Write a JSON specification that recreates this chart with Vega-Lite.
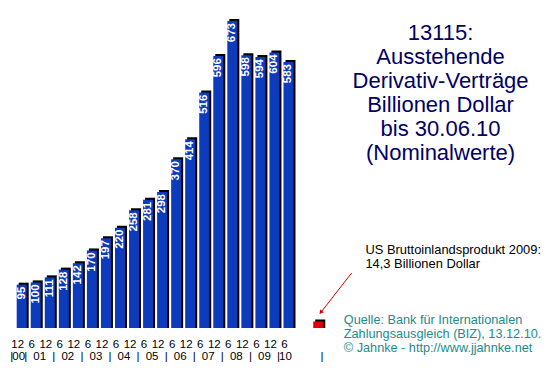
{
  "$schema": "https://vega.github.io/schema/vega-lite/v6.json",
  "width": 553,
  "height": 376,
  "padding": 0,
  "autosize": {"type": "none"},
  "background": "white",
  "config": {"view": {"stroke": null}, "font": "Liberation Sans"},
  "datasets": {
    "bars": [
      {"d": "12/00", "i": 0, "v": 95, "m": "12"},
      {"d": "6/01", "i": 1, "v": 100, "m": "6"},
      {"d": "12/01", "i": 2, "v": 111, "m": "12"},
      {"d": "6/02", "i": 3, "v": 128, "m": "6"},
      {"d": "12/02", "i": 4, "v": 142, "m": "12"},
      {"d": "6/03", "i": 5, "v": 170, "m": "6"},
      {"d": "12/03", "i": 6, "v": 197, "m": "12"},
      {"d": "6/04", "i": 7, "v": 220, "m": "6"},
      {"d": "12/04", "i": 8, "v": 258, "m": "12"},
      {"d": "6/05", "i": 9, "v": 281, "m": "6"},
      {"d": "12/05", "i": 10, "v": 298, "m": "12"},
      {"d": "6/06", "i": 11, "v": 370, "m": "6"},
      {"d": "12/06", "i": 12, "v": 414, "m": "12"},
      {"d": "6/07", "i": 13, "v": 516, "m": "6"},
      {"d": "12/07", "i": 14, "v": 596, "m": "12"},
      {"d": "6/08", "i": 15, "v": 673, "m": "6"},
      {"d": "12/08", "i": 16, "v": 598, "m": "12"},
      {"d": "6/09", "i": 17, "v": 594, "m": "6"},
      {"d": "12/09", "i": 18, "v": 604, "m": "12"},
      {"d": "6/10", "i": 19, "v": 583, "m": "6"}
    ],
    "gdp": [{"d": "US BIP 2009", "i": 21.12, "v": 14.3}],
    "years": [
      {"i": 0, "label": "00"}, {"i": 1.5, "label": "01"}, {"i": 3.5, "label": "02"},
      {"i": 5.5, "label": "03"}, {"i": 7.5, "label": "04"}, {"i": 9.5, "label": "05"},
      {"i": 11.5, "label": "06"}, {"i": 13.5, "label": "07"}, {"i": 15.5, "label": "08"},
      {"i": 17.5, "label": "09"}, {"i": 19, "label": "10"},
      {"i": -0.5, "label": "|"}, {"i": 0.5, "label": "|"}, {"i": 2.5, "label": "|"},
      {"i": 4.5, "label": "|"}, {"i": 6.5, "label": "|"}, {"i": 8.5, "label": "|"},
      {"i": 10.5, "label": "|"}, {"i": 12.5, "label": "|"}, {"i": 14.5, "label": "|"},
      {"i": 16.5, "label": "|"}, {"i": 18.5, "label": "|"}, {"i": 21.6, "label": "|"}
    ],
    "arrow": [{"i": 23.5, "v": 120.6, "i2": 21.3, "v2": 34}],
    "notes": [
      {"i": 29.83, "v": 646.6, "label": ["13115:", "Ausstehende", "Derivativ-Verträge", "Billionen Dollar", "bis 30.06.10", "(Nominalwerte)"]}
    ],
    "gdpnote": [
      {"i": 24.48, "v": 171, "label": ["US Bruttoinlandsprodukt 2009:", "14,3 Billionen Dollar"]}
    ],
    "source": [
      {"i": 22.94, "v": 17.5, "label": ["Quelle: Bank für Internationalen", "Zahlungsausgleich (BIZ), 13.12.10.", "© Jahnke - http://www.jjahnke.net"]}
    ]
  },
  "layer": [
    {
      "data": {"name": "bars"},
      "mark": {"type": "bar", "size": 10, "color": "black", "xOffset": 2, "yOffset": -2},
      "encoding": {
        "x": {"field": "i", "type": "quantitative", "scale": {"domain": [-1.189, 37.482], "nice": false, "zero": false}, "axis": null},
        "y": {"field": "v", "type": "quantitative", "scale": {"domain": [-105.2, 719], "nice": false, "zero": false}, "axis": null},
        "y2": {"datum": 0}
      }
    },
    {
      "data": {"name": "bars"},
      "mark": {"type": "bar", "size": 10, "color": "#0c3cbc"},
      "encoding": {
        "x": {"field": "i", "type": "quantitative"},
        "y": {"field": "v", "type": "quantitative"},
        "y2": {"datum": 0}
      }
    },
    {
      "data": {"name": "gdp"},
      "mark": {"type": "bar", "size": 10, "color": "black", "xOffset": 2, "yOffset": -2},
      "encoding": {
        "x": {"field": "i", "type": "quantitative"},
        "y": {"field": "v", "type": "quantitative"},
        "y2": {"datum": 0}
      }
    },
    {
      "data": {"name": "gdp"},
      "mark": {"type": "bar", "size": 10, "color": "#e00000"},
      "encoding": {
        "x": {"field": "i", "type": "quantitative"},
        "y": {"field": "v", "type": "quantitative"},
        "y2": {"datum": 0}
      }
    },
    {
      "data": {"name": "bars"},
      "mark": {"type": "text", "angle": 270, "align": "right", "baseline": "middle", "dx": -2, "fontSize": 11.5, "fontWeight": "bold", "color": "white"},
      "encoding": {
        "x": {"field": "i", "type": "quantitative"},
        "y": {"field": "v", "type": "quantitative"},
        "text": {"field": "v", "type": "quantitative"}
      }
    },
    {
      "data": {"name": "bars"},
      "mark": {"type": "text", "align": "center", "baseline": "middle", "dx": -4, "fontSize": 11.5, "color": "black"},
      "encoding": {
        "x": {"field": "i", "type": "quantitative"},
        "y": {"datum": -37.3},
        "text": {"field": "m", "type": "nominal"}
      }
    },
    {
      "data": {"name": "years"},
      "mark": {"type": "text", "align": "center", "baseline": "middle", "dx": -3, "fontSize": 11.5, "color": "black"},
      "encoding": {
        "x": {"field": "i", "type": "quantitative"},
        "y": {"datum": -63},
        "text": {"field": "label", "type": "nominal"}
      }
    },
    {
      "data": {"name": "arrow"},
      "mark": {"type": "rule", "color": "#cc0000", "strokeWidth": 1},
      "encoding": {
        "x": {"field": "i", "type": "quantitative"},
        "y": {"field": "v", "type": "quantitative"},
        "x2": {"field": "i2"},
        "y2": {"field": "v2"}
      }
    },
    {
      "data": {"name": "arrow"},
      "mark": {"type": "point", "shape": "triangle-up", "filled": true, "color": "#cc0000", "size": 22, "angle": 218, "opacity": 1},
      "encoding": {
        "x": {"field": "i2", "type": "quantitative"},
        "y": {"field": "v2", "type": "quantitative"}
      }
    },
    {
      "data": {"name": "notes"},
      "mark": {"type": "text", "align": "center", "baseline": "middle", "fontSize": 22, "lineHeight": 24, "color": "#000066"},
      "encoding": {
        "x": {"field": "i", "type": "quantitative"},
        "y": {"field": "v", "type": "quantitative"},
        "text": {"field": "label", "type": "nominal"}
      }
    },
    {
      "data": {"name": "gdpnote"},
      "mark": {"type": "text", "align": "left", "baseline": "middle", "fontSize": 12.9, "lineHeight": 14, "color": "black"},
      "encoding": {
        "x": {"field": "i", "type": "quantitative"},
        "y": {"field": "v", "type": "quantitative"},
        "text": {"field": "label", "type": "nominal"}
      }
    },
    {
      "data": {"name": "source"},
      "mark": {"type": "text", "align": "left", "baseline": "middle", "fontSize": 12.7, "lineHeight": 14, "color": "#208c8c"},
      "encoding": {
        "x": {"field": "i", "type": "quantitative"},
        "y": {"field": "v", "type": "quantitative"},
        "text": {"field": "label", "type": "nominal"}
      }
    }
  ]
}
